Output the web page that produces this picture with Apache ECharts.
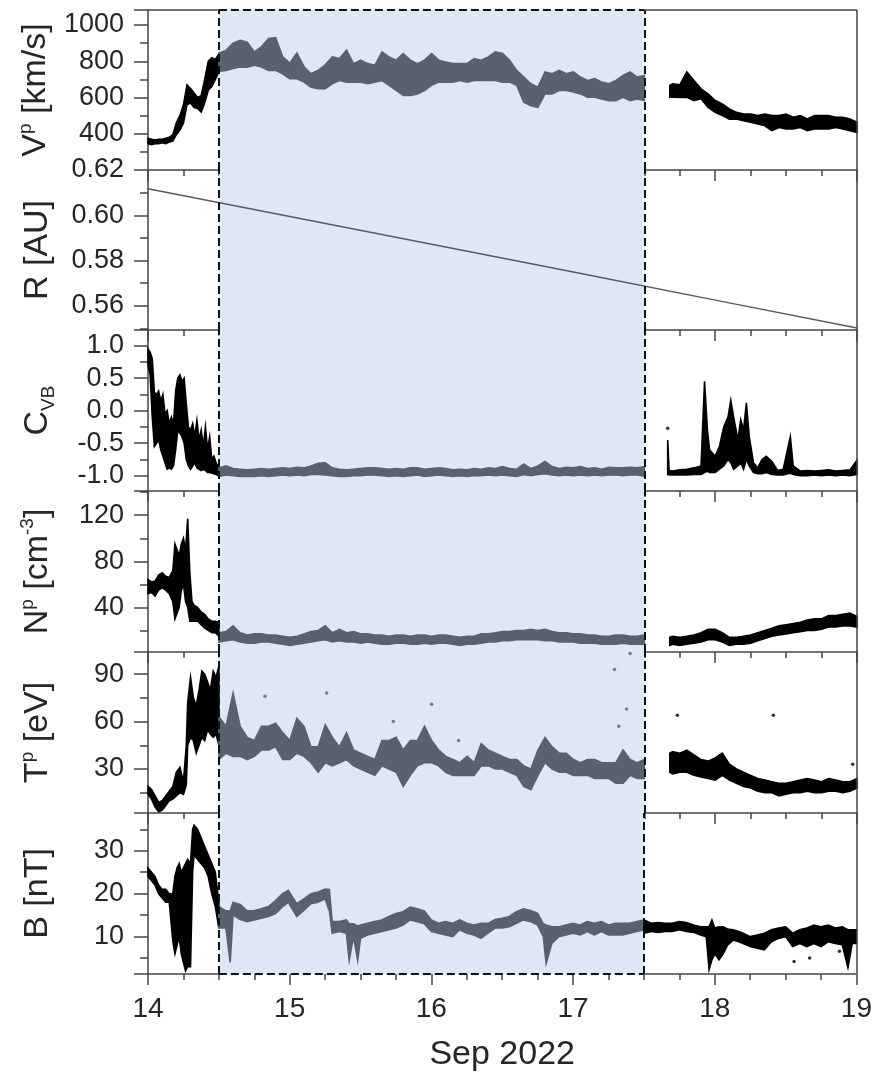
<!DOCTYPE html>
<html>
<head>
<meta charset="utf-8">
<title>Sep 2022 solar wind</title>
<script src="https://cdn.jsdelivr.net/npm/echarts@6/dist/echarts.min.js"></script>
<style>
html, body { margin: 0; padding: 0; background: #fff; }
#chart { width: 875px; height: 1078px; }
</style>
</head>
<body>
<div id="chart"></div>
<script>
// rows are [day of Sep 2022, lower edge, upper edge] of the noisy trace
var vpPre = [[14.0,345,375],[14.025,340,370],[14.05,345,365],[14.075,345,370],[14.1,350,370],[14.125,345,375],
    [14.15,355,380],[14.175,360,395],[14.2,395,460],[14.225,420,500],[14.25,460,560],[14.275,560,670],[14.3,570,650],
    [14.325,545,625],[14.35,540,600],[14.375,520,610],[14.4,570,700],[14.425,640,800],[14.45,660,820],[14.475,700,810],[14.5,740,840]];
var vpMid = [[14.5,745,845],[14.55,750,860],[14.6,760,900],[14.65,768,915],[14.7,768,905],[14.75,778,852],[14.8,768,880],
    [14.85,750,925],[14.9,750,930],[14.95,731,825],[15.0,704,790],[15.05,704,845],[15.1,685,770],[15.15,657,731],[15.2,648,750],
    [15.25,648,780],[15.3,676,824],[15.35,694,815],[15.4,685,861],[15.45,685,787],[15.5,685,806],[15.55,676,787],[15.6,685,778],
    [15.65,694,852],[15.7,667,824],[15.75,639,806],[15.8,611,843],[15.85,611,806],[15.9,620,787],[15.95,639,806],[16.0,667,843],
    [16.05,685,806],[16.1,685,796],[16.15,685,787],[16.2,694,787],[16.25,685,787],[16.3,694,815],[16.35,694,806],[16.4,694,824],
    [16.45,694,852],[16.5,685,843],[16.55,685,806],[16.6,667,750],[16.65,574,713],[16.7,555,676],[16.75,546,657],[16.8,620,741],
    [16.85,620,731],[16.9,639,750],[16.95,639,731],[17.0,630,741],[17.05,620,713],[17.1,602,694],[17.15,602,704],[17.2,592,685],
    [17.25,583,676],[17.3,583,694],[17.35,602,722],[17.4,583,741],[17.45,592,713],[17.5,583,722]];
var vpPost = [[17.68,602,667],[17.7,602,676],[17.75,600,670],[17.8,602,741],[17.85,583,694],[17.9,593,648],[17.95,546,620],
    [18.0,518,583],[18.05,500,565],[18.1,481,537],[18.15,481,518],[18.2,472,509],[18.25,463,509],[18.3,454,500],[18.35,444,509],
    [18.4,417,500],[18.45,435,500],[18.5,426,509],[18.55,426,491],[18.6,435,500],[18.65,417,481],[18.7,426,500],[18.75,426,500],
    [18.8,426,500],[18.85,435,491],[18.9,426,491],[18.95,417,481],[19.0,407,463]];

var rDays = [14, 15, 16, 17, 18, 19];
var rAU = [0.6117, 0.5995, 0.5872, 0.5749, 0.5625, 0.5502];

var cvbPre = [[14.0,0.70,0.95],[14.015,0.55,0.90],[14.03,-0.10,0.80],[14.045,-0.55,0.28],[14.06,-0.50,0.25],[14.075,-0.45,0.30],
    [14.09,-0.60,0.15],[14.105,-0.70,0.25],[14.12,-0.80,-0.05],[14.135,-0.90,0.00],[14.15,-0.88,-0.20],[14.165,-0.90,-0.10],
    [14.18,-0.85,-0.20],[14.195,-0.60,0.30],[14.21,-0.30,0.50],[14.225,-0.35,0.55],[14.24,-0.40,0.45],[14.255,-0.50,0.50],
    [14.27,-0.75,0.10],[14.285,-0.85,-0.25],[14.3,-0.90,-0.30],[14.315,-0.85,-0.20],[14.33,-0.80,-0.40],[14.345,-0.88,-0.15],
    [14.36,-0.90,-0.45],[14.375,-0.92,-0.30],[14.39,-0.90,-0.55],[14.405,-0.92,-0.25],[14.42,-0.95,-0.60],[14.435,-0.95,-0.40],
    [14.45,-0.96,-0.75],[14.465,-0.97,-0.70],[14.48,-0.98,-0.80],[14.5,-1.00,-0.88]];
var cvbMid = [[14.5,-1.01,-0.88],[14.55,-0.99,-0.85],[14.6,-1.00,-0.89],[14.65,-1.01,-0.90],[14.7,-1.01,-0.91],[14.75,-1.01,-0.90],
    [14.8,-1.00,-0.89],[14.85,-1.01,-0.90],[14.9,-1.00,-0.89],[14.95,-0.99,-0.88],[15.0,-1.00,-0.89],[15.05,-0.99,-0.87],
    [15.1,-1.00,-0.88],[15.15,-0.98,-0.85],[15.2,-0.98,-0.81],[15.25,-0.99,-0.80],[15.3,-1.00,-0.88],[15.35,-1.01,-0.90],
    [15.4,-1.01,-0.91],[15.45,-1.00,-0.90],[15.5,-1.00,-0.89],[15.55,-0.99,-0.88],[15.6,-0.99,-0.88],[15.65,-1.00,-0.89],
    [15.7,-1.01,-0.90],[15.75,-1.00,-0.89],[15.8,-1.01,-0.90],[15.85,-1.00,-0.88],[15.9,-0.99,-0.88],[15.95,-1.01,-0.90],
    [16.0,-1.00,-0.89],[16.05,-0.99,-0.88],[16.1,-1.00,-0.89],[16.15,-1.01,-0.91],[16.2,-1.00,-0.90],[16.25,-1.01,-0.91],
    [16.3,-1.00,-0.89],[16.35,-1.00,-0.90],[16.4,-0.99,-0.88],[16.45,-1.00,-0.89],[16.5,-0.99,-0.86],[16.55,-1.00,-0.89],
    [16.6,-1.01,-0.90],[16.65,-0.98,-0.82],[16.7,-1.00,-0.89],[16.75,-0.98,-0.85],[16.8,-0.97,-0.78],[16.85,-0.99,-0.86],
    [16.9,-1.00,-0.89],[16.95,-0.99,-0.87],[17.0,-1.00,-0.88],[17.05,-0.99,-0.86],[17.1,-1.00,-0.89],[17.15,-0.99,-0.88],
    [17.2,-1.00,-0.90],[17.25,-0.99,-0.87],[17.3,-0.99,-0.88],[17.35,-1.00,-0.88],[17.4,-0.99,-0.87],[17.45,-0.99,-0.88],[17.5,-1.01,-0.86]];
var cvbPost = [[17.665,-0.98,-0.45],[17.675,-0.99,-0.92],[17.7,-0.99,-0.93],[17.75,-0.99,-0.91],[17.8,-0.99,-0.90],[17.85,-0.98,-0.88],
    [17.9,-0.98,-0.85],[17.925,-0.95,0.45],[17.945,-0.93,-0.30],[17.96,-0.95,-0.60],[18.0,-0.95,-0.70],[18.03,-0.90,-0.55],
    [18.06,-0.85,-0.25],[18.09,-0.75,-0.10],[18.11,-0.80,0.16],[18.13,-0.90,-0.10],[18.16,-0.85,-0.45],[18.18,-0.80,-0.14],
    [18.2,-0.90,-0.30],[18.22,-0.75,0.12],[18.24,-0.85,-0.40],[18.27,-0.95,-0.80],[18.3,-0.97,-0.88],[18.33,-0.97,-0.75],
    [18.36,-0.95,-0.70],[18.4,-0.98,-0.78],[18.44,-0.99,-0.92],[18.48,-0.99,-0.90],[18.51,-0.97,-0.60],[18.53,-0.96,-0.40],
    [18.55,-0.98,-0.85],[18.6,-1.00,-0.93],[18.65,-1.00,-0.92],[18.7,-0.99,-0.93],[18.75,-1.00,-0.92],[18.8,-0.99,-0.91],
    [18.85,-1.00,-0.93],[18.9,-0.99,-0.92],[18.95,-1.00,-0.91],[19.0,-0.98,-0.76]];
var cvbDots = [[17.665, -0.27]];

var npPre = [[14.0,52,64],[14.025,53,62],[14.05,50,63],[14.075,55,68],[14.1,57,70],[14.125,55,67],[14.15,52,66],[14.175,45,72],
    [14.19,30,95],[14.205,35,90],[14.22,40,85],[14.235,55,95],[14.25,60,100],[14.265,45,90],[14.28,40,117],[14.295,28,70],
    [14.31,28,45],[14.325,28,42],[14.35,28,40],[14.375,25,36],[14.4,22,34],[14.425,20,30],[14.45,18,28],[14.475,18,28],[14.5,15,27]];
var npMid = [[14.5,10,18],[14.55,11,19],[14.6,12,24],[14.65,10,18],[14.7,9,16],[14.75,9,17],[14.8,10,17],[14.85,10,16],[14.9,9,16],
    [14.95,8,15],[15.0,7,14],[15.05,8,15],[15.1,9,17],[15.15,10,19],[15.2,11,20],[15.25,12,24],[15.3,10,18],[15.35,11,21],
    [15.4,10,18],[15.45,10,19],[15.5,9,17],[15.55,10,17],[15.6,9,16],[15.65,8,16],[15.7,8,15],[15.75,9,16],[15.8,9,16],
    [15.85,8,15],[15.9,8,16],[15.95,9,16],[16.0,8,15],[16.05,9,16],[16.1,9,16],[16.15,8,15],[16.2,7,14],[16.25,8,15],
    [16.3,8,15],[16.35,9,17],[16.4,10,17],[16.45,10,18],[16.5,11,19],[16.55,11,19],[16.6,12,20],[16.65,12,20],[16.7,12,21],
    [16.75,12,20],[16.8,11,21],[16.85,11,19],[16.9,10,18],[16.95,10,18],[17.0,10,17],[17.05,9,17],[17.1,9,16],[17.15,9,16],
    [17.2,8,15],[17.25,8,15],[17.3,8,16],[17.35,9,16],[17.4,8,15],[17.45,8,15],[17.5,8,16]];
var npPost = [[17.68,7,14],[17.7,8,15],[17.75,7,14],[17.8,8,15],[17.85,9,16],[17.9,10,18],[17.95,12,21],[18.0,12,21],[18.05,10,18],
    [18.1,7,14],[18.15,8,14],[18.2,8,15],[18.25,9,16],[18.3,11,18],[18.35,13,20],[18.4,15,22],[18.45,16,24],[18.5,17,25],
    [18.55,18,26],[18.6,19,27],[18.65,20,29],[18.7,20,30],[18.75,21,30],[18.8,23,33],[18.85,23,33],[18.9,24,34],[18.95,24,35],[19.0,23,32]];

var tpPre = [[14.0,14,19],[14.025,11,17],[14.05,6,13],[14.075,3,9],[14.1,4,10],[14.125,7,13],[14.15,10,16],[14.175,11,19],
    [14.2,13,28],[14.225,15,31],[14.25,14,22],[14.27,20,45],[14.28,45,72],[14.3,50,88],[14.32,48,75],[14.34,40,70],
    [14.36,45,80],[14.38,50,92],[14.4,48,90],[14.42,55,85],[14.44,52,80],[14.46,50,92],[14.48,52,88],[14.5,45,95]];
var tpMid = [[14.5,36,63],[14.55,40,57],[14.6,38,78],[14.65,38,57],[14.7,36,50],[14.75,38,48],[14.8,42,57],[14.85,42,57],[14.9,44,59],
    [14.95,36,53],[15.0,36,48],[15.05,40,62],[15.1,38,57],[15.15,34,44],[15.2,28,44],[15.25,34,58],[15.3,32,50],[15.35,34,44],
    [15.4,36,53],[15.45,32,42],[15.5,30,40],[15.55,28,38],[15.6,26,36],[15.65,32,48],[15.7,30,48],[15.75,28,50],[15.8,19,42],
    [15.85,26,48],[15.9,32,48],[15.95,34,57],[16.0,34,48],[16.05,32,42],[16.1,28,38],[16.15,26,36],[16.2,26,34],[16.25,26,38],
    [16.3,26,34],[16.35,32,46],[16.4,32,42],[16.45,30,40],[16.5,30,38],[16.55,28,36],[16.6,26,36],[16.65,19,32],[16.7,17,30],
    [16.75,26,42],[16.8,34,50],[16.85,30,44],[16.9,28,40],[16.95,28,40],[17.0,26,36],[17.05,26,34],[17.1,26,36],[17.15,24,36],
    [17.2,24,34],[17.25,24,34],[17.3,21,34],[17.35,21,42],[17.4,26,36],[17.45,24,34],[17.5,24,36]];
var tpPost = [[17.68,28,40],[17.7,27,41],[17.75,28,40],[17.8,28,42],[17.85,26,39],[17.9,25,36],[17.95,24,35],[18.0,23,37],
    [18.05,26,40],[18.1,23,33],[18.15,21,30],[18.2,19,28],[18.25,18,26],[18.3,16,24],[18.35,15,23],[18.4,15,22],[18.45,13,21],
    [18.5,14,21],[18.55,15,22],[18.6,15,23],[18.65,16,24],[18.7,15,23],[18.75,15,22],[18.8,16,24],[18.85,16,23],[18.9,15,22],
    [18.95,16,22],[19.0,18,24]];
var tpDotsMid = [[14.825,76],[15.26,78],[15.73,60],[16.0,71],[16.19,48],[17.29,93],[17.32,57],[17.375,68],[17.4,103]];
var tpDotsPost = [[17.733,64],[18.41,64],[18.97,33]];

var bPre = [[14.0,24,26],[14.025,23,25],[14.05,22,24],[14.075,20,22],[14.1,19,21],[14.125,18,21],[14.15,18,20],[14.175,9,20],
    [14.19,6,24],[14.205,8,26],[14.22,10,27],[14.235,6,25],[14.25,4,26],[14.265,2,27],[14.28,3,28],[14.3,3,27],[14.315,25,35],
    [14.325,29,36],[14.35,28,35],[14.375,27,33],[14.4,26,31],[14.425,24,29],[14.45,20,27],[14.475,17,25],[14.5,12,18]];
var bMid = [[14.5,12,17],[14.55,12,16],[14.58,4,16],[14.6,15,18],[14.65,14,17.5],[14.7,13.5,16],[14.75,13.9,16.1],[14.8,14.3,16.5],
    [14.85,14.7,17],[14.9,15.4,18.4],[14.95,17,20],[14.99,18,20.8],[15.05,14.7,17.7],[15.1,16.1,18.8],[15.15,17.7,20],
    [15.2,18,20.4],[15.25,18.8,21.1],[15.28,16,21],[15.3,10.8,13.5],[15.35,11.2,13.5],[15.4,10.8,13.9],[15.42,4.5,13],
    [15.45,10,13],[15.48,4.5,12.5],[15.5,9.6,12.7],[15.55,10.4,13.1],[15.6,10.8,13.5],[15.65,11.2,13.9],[15.7,11.6,14.7],
    [15.75,12,15.4],[15.8,12.7,15.8],[15.85,13.9,16.9],[15.9,13.5,16.5],[15.95,13,16],[16.0,11.2,13.9],[16.05,10.8,13.1],
    [16.1,10.4,13.5],[16.15,10,13.1],[16.2,11.6,13.9],[16.25,10.8,13.1],[16.3,10.4,12.7],[16.35,9.6,13.1],[16.4,10.8,13.1],
    [16.45,12,14],[16.5,12,14.3],[16.55,12.3,14.7],[16.6,13.1,15.8],[16.65,13.9,16.5],[16.7,13.5,16.1],[16.75,12.7,15.4],
    [16.79,10,13],[16.81,3.8,12.7],[16.85,8.4,12.3],[16.9,10,12.3],[16.95,10.4,12.7],[17.0,10.8,13.1],[17.05,10.4,12.7],
    [17.1,11.2,13.5],[17.15,10.4,13.1],[17.2,11.2,13.5],[17.25,10.4,12.7],[17.3,10.4,13.1],[17.35,10.4,13.1],[17.4,10.8,13.1],
    [17.45,11.2,13.5],[17.5,11.6,13.9]];
var bPost = [[17.5,10.8,13.9],[17.55,11.2,13.1],[17.6,11,13.3],[17.65,11.2,13.1],[17.7,11.2,13.1],[17.75,11.6,13.5],[17.8,11.2,13.3],
    [17.85,11,12.7],[17.9,10.4,12.3],[17.94,10,12.3],[17.96,2.3,12.3],[17.98,4.6,13.9],[18.0,6,12],[18.03,4.6,12.3],[18.06,6,12.3],
    [18.09,8,11.8],[18.13,9.2,11.6],[18.17,8.8,11.2],[18.2,8.4,10.8],[18.25,7.7,10],[18.3,7.3,10.4],[18.35,6.9,10.8],[18.4,8.8,11.6],
    [18.45,9.6,12],[18.5,10,12.3],[18.55,7.7,10.8],[18.6,8.4,11.6],[18.65,7.7,12],[18.7,8.4,12.7],[18.75,7.7,12.3],[18.8,8.8,12.7],
    [18.85,8.4,12],[18.9,8.1,12.3],[18.94,2.8,11.6],[18.97,8.4,11.6],[19.0,8.4,11.6]];
var bDotsPost = [[18.56,4.2],[18.67,5],[18.88,6.6]];

var yMin = [200, 0.5493, -1.235, 1.3, 2.2, 1.3];
var yMax = [1083, 0.62, 1.24, 141, 104, 38.8];
var yStep = [200, 0.02, 0.5, 40, 30, 10];
var yDigits = [0, 2, 1, 0, 0, 0];
var yNames = ['{m|V}{s|p}{m| [km/s]}', '{m|R [AU]}', '{m|C}{b|VB}', '{m|N}{s|p}{m| [cm}{s|-3}{m|]}', '{m|T}{s|p}{m| [eV]}', '{m|B [nT]}'];
var eventStart = 14.5, eventEnd = 17.5;

var FONT = 'Arial, "Liberation Sans", sans-serif';
var INK = '#262626';
var AXIS = '#454545';
var GREY = '#58626d';
var BLACK = '#000000';
var SHADE = '#dee8f5';
var panelTop = [10, 170, 330, 491, 652, 813, 974];

var grids = [], xAxes = [], yAxes = [], series = [];

for (var i = 0; i < 6; i++) {
    grids.push({ left: 148, right: 18, top: panelTop[i], height: panelTop[i + 1] - panelTop[i], show: false });
    xAxes.push({
        type: 'value', gridIndex: i, min: 14, max: 19, interval: 1,
        axisLine: { show: i < 5, onZero: false, lineStyle: { color: AXIS, width: 1.5 } },
        axisTick: { length: 11, lineStyle: { color: AXIS, width: 1.5 } },
        minorTick: { show: true, splitNumber: 4, length: 6, lineStyle: { color: AXIS, width: 1.5 } },
        splitLine: { show: false },
        axisLabel: { show: i === 5, fontSize: 28, margin: 21, color: INK, fontFamily: FONT },
        name: i === 5 ? 'Sep 2022' : '',
        nameLocation: 'middle', nameGap: 64,
        nameTextStyle: { fontSize: 34, color: INK, fontFamily: FONT }
    });
    yAxes.push({
        type: 'value', gridIndex: i, min: yMin[i], max: yMax[i],
        minInterval: yStep[i], maxInterval: yStep[i],
        axisLine: { show: true, onZero: false, lineStyle: { color: AXIS, width: 1.5 } },
        axisTick: { length: 14, lineStyle: { color: AXIS, width: 1.5 } },
        minorTick: { show: true, splitNumber: 2, length: 8, lineStyle: { color: AXIS, width: 1.5 } },
        splitLine: { show: false },
        axisLabel: {
            fontSize: 27, margin: 24, color: INK, fontFamily: FONT,
            showMinLabel: false, showMaxLabel: i === 1,
            formatter: (function (d) { return function (v) { return v.toFixed(d); }; })(yDigits[i])
        },
        name: yNames[i], nameLocation: 'middle', nameRotate: 90, nameGap: 90,
        nameTextStyle: {
            color: INK, fontFamily: FONT,
            rich: {
                m: { fontSize: 34, lineHeight: 40, fontFamily: FONT, color: INK },
                s: { fontSize: 19, lineHeight: 22, verticalAlign: 'top', fontFamily: FONT, color: INK },
                b: { fontSize: 19, lineHeight: 22, verticalAlign: 'bottom', fontFamily: FONT, color: INK }
            }
        }
    });
}

// filled band between the lower and upper edge of a trace
function band(idx, rows, color) {
    return {
        type: 'custom', xAxisIndex: idx, yAxisIndex: idx, z: 3, silent: true,
        data: rows,
        renderItem: function (params, api) {
            if (params.dataIndex !== 0) return null;
            var top = rows.map(function (r) { return api.coord([r[0], r[2]]); });
            var bot = rows.map(function (r) { return api.coord([r[0], r[1]]); }).reverse();
            return {
                type: 'polygon',
                shape: { points: top.concat(bot) },
                style: { fill: color, stroke: color, lineWidth: 1.6, lineJoin: 'miter' }
            };
        }
    };
}

function dots(idx, pts, color) {
    return { type: 'scatter', xAxisIndex: idx, yAxisIndex: idx, z: 3, silent: true,
        symbolSize: 3.5, itemStyle: { color: color }, data: pts };
}

var dashed = { type: [8, 4], color: '#111', width: 2 };
var solid = { type: 'solid', color: AXIS, width: 1.5 };

for (var k = 0; k < 6; k++) {
    // shaded event interval
    series.push({
        type: 'line', xAxisIndex: k, yAxisIndex: k, z: 1, symbol: 'none', silent: true,
        data: [[eventStart, yMin[k]]],
        markArea: { silent: true, itemStyle: { color: SHADE }, data: [[{ xAxis: eventStart }, { xAxis: eventEnd }]] }
    });
    var lines = [
        { xAxis: eventStart, lineStyle: dashed },
        { xAxis: eventEnd, lineStyle: dashed },
        { xAxis: 19, lineStyle: solid }
    ];
    var edgeY = k === 0 ? yMax[0] : (k === 5 ? yMin[5] : null);
    if (edgeY !== null) {
        lines.push([{ coord: [14, edgeY], lineStyle: solid }, { coord: [eventStart, edgeY] }]);
        lines.push([{ coord: [eventStart, edgeY], lineStyle: dashed }, { coord: [eventEnd, edgeY] }]);
        lines.push([{ coord: [eventEnd, edgeY], lineStyle: solid }, { coord: [19, edgeY] }]);
    }
    series.push({
        type: 'line', xAxisIndex: k, yAxisIndex: k, z: 10, symbol: 'none', silent: true, clip: false,
        data: [[eventStart, yMin[k]]],
        markLine: { silent: true, symbol: ['none', 'none'], label: { show: false }, animation: false, data: lines }
    });
}

series.push(band(0, vpPre, BLACK), band(0, vpMid, GREY), band(0, vpPost, BLACK));
series.push({
    type: 'line', xAxisIndex: 1, yAxisIndex: 1, z: 3, symbol: 'none', silent: true,
    lineStyle: { color: '#5a5a5a', width: 1.5 },
    data: rDays.map(function (d, j) { return [d, rAU[j]]; })
});
series.push(band(2, cvbPre, BLACK), band(2, cvbMid, GREY), band(2, cvbPost, BLACK), dots(2, cvbDots, BLACK));
series.push(band(3, npPre, BLACK), band(3, npMid, GREY), band(3, npPost, BLACK));
series.push(band(4, tpPre, BLACK), band(4, tpMid, GREY), band(4, tpPost, BLACK),
    dots(4, tpDotsMid, GREY), dots(4, tpDotsPost, BLACK));
series.push(band(5, bPre, BLACK), band(5, bMid, GREY), band(5, bPost, BLACK), dots(5, bDotsPost, BLACK));

var option = {
    backgroundColor: '#ffffff',
    animation: false,
    grid: grids,
    xAxis: xAxes,
    yAxis: yAxes,
    series: series
};

var chart = echarts.init(document.getElementById('chart'), null, { renderer: 'canvas' });
chart.setOption(option);
window.addEventListener('resize', function () {
    chart.resize();
});
</script>
</body>
</html>
